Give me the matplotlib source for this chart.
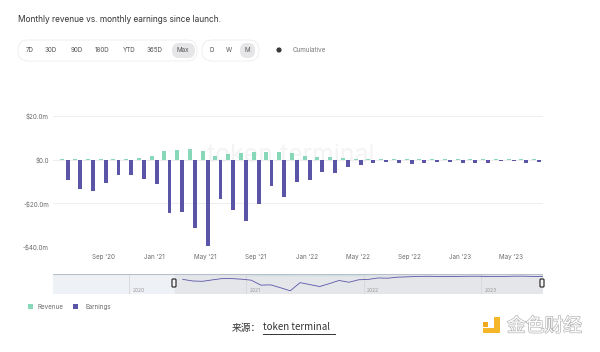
import numpy as np
import matplotlib
matplotlib.use("Agg")
import matplotlib.pyplot as plt
from matplotlib.patches import FancyBboxPatch, Rectangle, Circle
import matplotlib.patheffects as pe

plt.rcParams['font.family'] = ['Inter', 'Noto Sans CJK SC', 'DejaVu Sans']

# monthly values, Jun 2020 .. Jul 2023 (in $m)
months = ['Jun 20', 'Jul 20', 'Aug 20', 'Sep 20', 'Oct 20', 'Nov 20', 'Dec 20',
          'Jan 21', 'Feb 21', 'Mar 21', 'Apr 21', 'May 21', 'Jun 21', 'Jul 21',
          'Aug 21', 'Sep 21', 'Oct 21', 'Nov 21', 'Dec 21',
          'Jan 22', 'Feb 22', 'Mar 22', 'Apr 22', 'May 22', 'Jun 22', 'Jul 22',
          'Aug 22', 'Sep 22', 'Oct 22', 'Nov 22', 'Dec 22',
          'Jan 23', 'Feb 23', 'Mar 23', 'Apr 23', 'May 23', 'Jun 23', 'Jul 23']
revenue = [0.2, 0.2, 0.2, 0.1, 0.1, 0.2, 0.9,
           1.8, 4.1, 4.6, 5.1, 3.8, 1.8, 2.6,
           3.1, 3.7, 3.7, 3.4, 3.1,
           1.8, 1.2, 1.1, 0.8, 0.3, 0.2, 0.2,
           0.2, 0.2, 0.2, 0.2, 0.1,
           0.2, 0.2, 0.2, 0.1, 0.1, 0.2, 0.1]
earnings = [-9.2, -13.5, -14.4, -10.7, -7.2, -7.2, -8.7,
            -11.3, -24.5, -23.8, -31.4, -39.5, -17.9, -23.0,
            -28.2, -20.5, -12.1, -16.9, -10.3,
            -9.2, -5.5, -6.1, -3.4, -2.5, -1.4, -1.1,
            -1.4, -1.8, -1.5, -1.1, -0.9,
            -1.4, -1.4, -1.4, -0.8, -0.8, -1.7, -1.1]

xtick_idx = [3, 7, 11, 15, 19, 23, 27, 31, 35]
xtick_labels = ["Sep '20", "Jan '21", "May '21", "Sep '21", "Jan '22",
                "May '22", "Sep '22", "Jan '23", "May '23"]
ytick_vals = [20, 0, -20, -40]
ytick_labels = ['$20.0m', '$0.0', '-$20.0m', '-$40.0m']
nav_years = [2020, 2021, 2022, 2023]
buttons1 = ['7D', '30D', '90D', '180D', 'YTD', '365D', 'Max']
buttons2 = ['D', 'W', 'M']

c_rev = '#86d8b8'
c_earn = '#5b55a8'
c_text = '#6b6b6b'

W, H = 600, 352
fig = plt.figure(figsize=(6, 3.52), dpi=100)

# overlay in pixel coordinates for the page furniture
bg = fig.add_axes([0, 0, 1, 1], zorder=0)
bg.set_xlim(0, W)
bg.set_ylim(H, 0)
bg.axis('off')

bg.text(18, 20, 'Monthly revenue vs. monthly earnings since launch.',
        fontsize=6.0, color='#333333', va='center', ha='left')

# range buttons
bg.add_patch(FancyBboxPatch((18, 40), 179, 21, boxstyle='round,pad=0,rounding_size=10',
                            fc='white', ec='#ececec', lw=0.6))
bg.add_patch(FancyBboxPatch((202, 40), 57, 21, boxstyle='round,pad=0,rounding_size=10',
                            fc='white', ec='#ececec', lw=0.6))
bg.add_patch(FancyBboxPatch((172, 43), 23, 15, boxstyle='round,pad=0,rounding_size=7',
                            fc='#e6e6e8', ec='none'))
bg.add_patch(FancyBboxPatch((240, 43), 15, 15, boxstyle='round,pad=0,rounding_size=7',
                            fc='#e6e6e8', ec='none'))
for lab, x in zip(buttons1, [30, 51, 77, 102, 129, 155, 183]):
    bg.text(x, 50.5, lab, fontsize=4.5, color='#555555', ha='center', va='center')
for lab, x in zip(buttons2, [212, 229, 247]):
    bg.text(x, 50.5, lab, fontsize=4.5, color='#555555', ha='center', va='center')
bg.add_patch(Circle((279, 50), 2.6, fc='#3a3a3a', ec='none'))
bg.text(293, 50.5, 'Cumulative', fontsize=4.5, color='#777777', ha='left', va='center')

# main chart
ax = fig.add_axes([53 / W, 1 - 247 / H, 490 / W, 131 / H], zorder=2)
ax.patch.set_alpha(0)
x = np.arange(len(months))
ax.bar(x - 0.2, revenue, width=0.31, color=c_rev, zorder=3)
ax.bar(x + 0.2, earnings, width=0.31, color=c_earn, zorder=3)
ax.text(0.485, 0.7, 'token terminal', transform=ax.transAxes, fontsize=18,
        color='#f4f4f4', ha='center', va='center', zorder=1)
ax.set_xlim(-0.94, 37.5)
ax.set_ylim(-40, 20)
ax.set_yticks(ytick_vals)
ax.set_yticklabels(ytick_labels)
ax.set_xticks(xtick_idx)
ax.set_xticklabels(xtick_labels)
ax.tick_params(length=0, labelsize=4.5, labelcolor=c_text)
ax.tick_params(axis='y', pad=3)
ax.tick_params(axis='x', pad=5)
ax.grid(axis='y', color='#ebebeb', lw=0.6, zorder=0)
for s in ax.spines.values():
    s.set_visible(False)

# navigator
nav = fig.add_axes([53 / W, 1 - 294 / H, 490 / W, 20 / H], zorder=2)
nav.set_facecolor('#eef1f6')
nav.set_xlim(2019.352, 2023.53)
nav.set_ylim(-48, 5)
nav_x = [2020 + 5.5 / 12 + i / 12 for i in range(len(months))]
nav.axvspan(nav_x[0] - 0.07, 2023.53, color='#e4e6ea', zorder=0)
nav.fill_between(nav_x, 0, revenue, color=c_rev, alpha=0.25, lw=0, zorder=1)
nav.plot(nav_x, earnings, color=c_earn, lw=0.6, zorder=2)
for yr in nav_years:
    nav.axvline(yr, color='#d4d6da', lw=0.6, zorder=0.5)
    nav.text(yr + 0.03, -38, str(yr), fontsize=3.6, color='#9a9a9a', va='center')
nav.set_xticks([])
nav.set_yticks([])
for s in nav.spines.values():
    s.set_visible(False)
nav.axhline(5, color='#b8bfcc', lw=0.8)

# navigator handles, on top of everything
fg = fig.add_axes([0, 0, 1, 1], zorder=4)
fg.set_xlim(0, W)
fg.set_ylim(H, 0)
fg.axis('off')
fg.patch.set_alpha(0)
for hx in [174, 542]:
    fg.add_patch(FancyBboxPatch((hx - 2, 279), 4, 8, boxstyle='round,pad=0,rounding_size=1',
                                fc='#f5f5f5', ec='#333333', lw=0.9))

# legend
bg.add_patch(Rectangle((28, 304), 5, 5, fc=c_rev, ec='none'))
bg.text(38, 306.8, 'Revenue', fontsize=4.5, color=c_text, va='center')
bg.add_patch(Rectangle((73, 304), 5, 5, fc=c_earn, ec='none'))
bg.text(86, 306.8, 'Earnings', fontsize=4.5, color=c_text, va='center')

# caption
bg.text(232, 328, '来源：', fontsize=7, color='#333333', va='center',
        family=['Noto Sans CJK SC', 'DejaVu Sans'])
bg.text(263, 327.5, 'token terminal', fontsize=7, color='#333333', va='center',
        family=['Noto Sans CJK SC', 'DejaVu Sans'])
bg.plot([263, 335], [334, 334], color='#333333', lw=0.7)

# logo
bg.add_patch(Rectangle((483, 322), 5, 5, fc='#f0a81c', ec='none'))
bg.add_patch(Rectangle((494, 317), 6, 16, fc='#f5b629', ec='none'))
bg.add_patch(Rectangle((483, 328), 17, 5, fc='#f5b629', ec='none'))
bg.text(507, 326, '金色财经', fontsize=13.5, color='white', va='center', ha='left',
        family=['Noto Sans CJK SC', 'DejaVu Sans'],
        path_effects=[pe.withStroke(linewidth=1.0, foreground='#b5b5b5')])

fig.savefig('out.png', dpi=100)
